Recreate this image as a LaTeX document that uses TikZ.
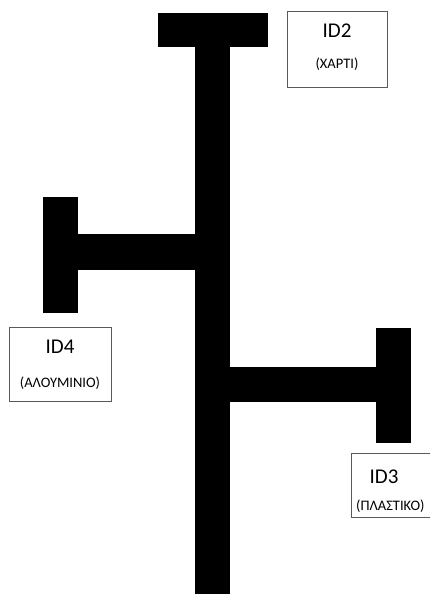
\documentclass[tikz,border=0pt]{standalone}
\usepackage{fontspec}
\setmainfont{Carlito}
\begin{document}
\begin{tikzpicture}[x=1pt,y=-1pt,
  bar/.style={fill=black,draw=none},
  lbl/.style={draw=black!65,line width=0.8pt,fill=white},
  idtext/.style={font=\fontsize{21}{24}\selectfont,inner sep=0pt,anchor=center},
  subtext/.style={font=\fontsize{14.5}{17}\selectfont,inner sep=0pt,anchor=center}]
\useasboundingbox (0,0) rectangle (430,594);
% trunk and top bar
\fill[bar] (195,47) rectangle (230,594);
\fill[bar] (158,13) rectangle (268,47);
% left branch
\fill[bar] (78,234) rectangle (195,270);
\fill[bar] (43,197) rectangle (78,313);
% right branch
\fill[bar] (230,367) rectangle (376,402);
\fill[bar] (376,328) rectangle (411,443);
% label boxes
\draw[lbl] (287.5,11) rectangle (387,87);
\node[idtext] (id2) at (337,31) {ID2};
\node[subtext] (id2s) at (337,64) {(ΧΑΡΤΙ)};
\draw[lbl] (9,327) rectangle (111.5,401);
\node[idtext] (id4) at (60,347) {ID4};
\node[subtext] (id4s) at (60,383) {(ΑΛΟΥΜΙΝΙΟ)};
\draw[lbl] (351,453) rectangle (436,517);
\node[idtext] (id3) at (384,477) {ID3};
\node[subtext,anchor=west] (id3s) at (356,506) {(ΠΛΑΣΤΙΚΟ)};
\end{tikzpicture}
\end{document}
